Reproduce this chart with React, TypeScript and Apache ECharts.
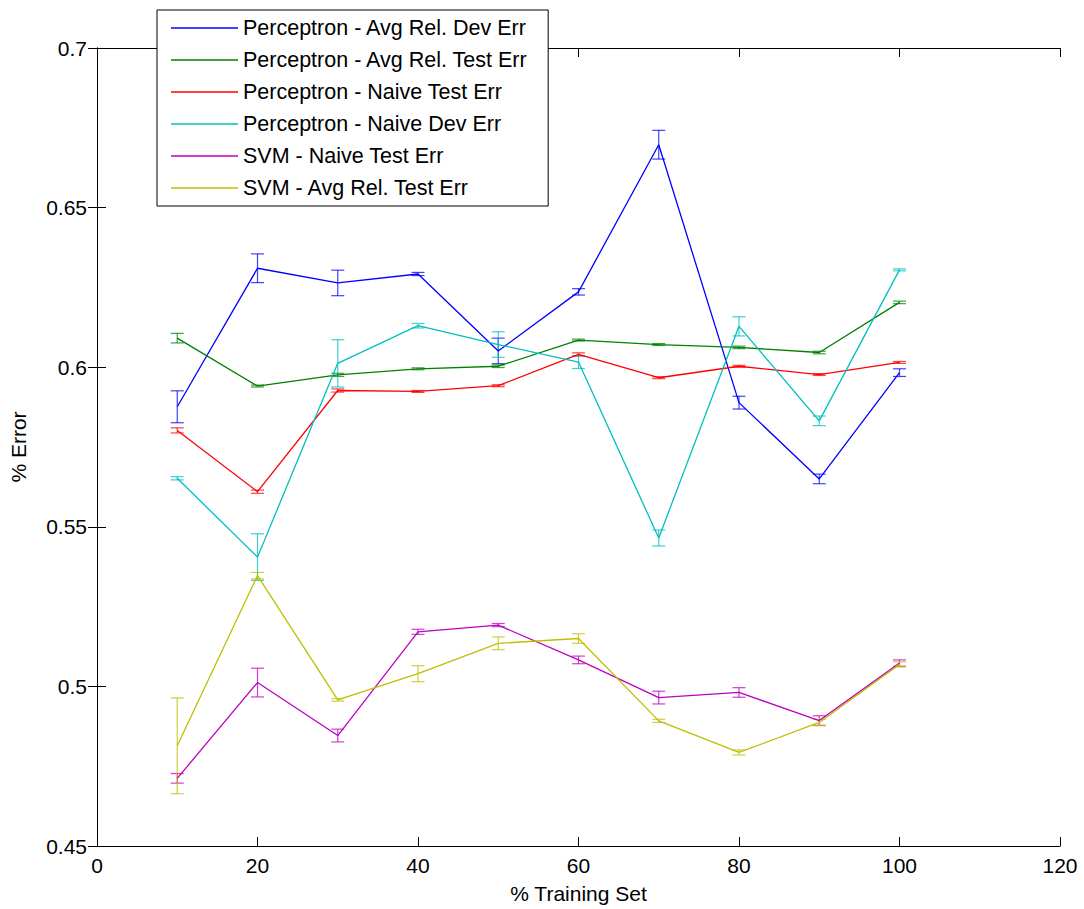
import React, { useEffect, useRef } from "react";
import * as echarts from "echarts";

const xValues = [10, 20, 30, 40, 50, 60, 70, 80, 90, 100];

const seriesNames = [
  "Perceptron - Avg Rel. Dev Err",
  "Perceptron - Avg Rel. Test Err",
  "Perceptron - Naive Test Err",
  "Perceptron - Naive Dev Err",
  "SVM - Naive Test Err",
  "SVM - Avg Rel. Test Err",
];

const seriesColors = ["#0000FF", "#008000", "#FF0000", "#00BFBF", "#BF00BF", "#BFBF00"];

const percAvgRelDev = [0.5876, 0.631, 0.6264, 0.6292, 0.6051, 0.6236, 0.6697, 0.5889, 0.565, 0.5983];
const percAvgRelDevErr = [0.005, 0.0045, 0.004, 0.0005, 0.004, 0.001, 0.0045, 0.002, 0.0015, 0.0012];

const percAvgRelTest = [0.6091, 0.5941, 0.5976, 0.5995, 0.6003, 0.6085, 0.6071, 0.6062, 0.6046, 0.6203];
const percAvgRelTestErr = [0.0015, 0.0003, 0.0005, 0.0003, 0.0004, 0.0003, 0.0003, 0.0004, 0.0004, 0.0004];

const percNaiveTest = [0.5802, 0.561, 0.5927, 0.5924, 0.5942, 0.604, 0.5967, 0.6003, 0.5977, 0.6015];
const percNaiveTestErr = [0.0008, 0.0005, 0.0005, 0.0003, 0.0003, 0.0005, 0.0003, 0.0003, 0.0003, 0.0003];

const percNaiveDev = [0.5652, 0.5405, 0.6012, 0.613, 0.6071, 0.6016, 0.5465, 0.6128, 0.5832, 0.6305];
const percNaiveDevErr = [0.0005, 0.0073, 0.0074, 0.0007, 0.004, 0.002, 0.0025, 0.003, 0.0015, 0.0003];

const svmNaiveTest = [0.4712, 0.5012, 0.4846, 0.5171, 0.5192, 0.5083, 0.4965, 0.4981, 0.4893, 0.5073];
const svmNaiveTestErr = [0.0015, 0.0045, 0.002, 0.0008, 0.0005, 0.0012, 0.002, 0.0015, 0.0015, 0.001];

const svmAvgRelTest = [0.4814, 0.5347, 0.4958, 0.504, 0.5135, 0.515, 0.4892, 0.4793, 0.4887, 0.5069];
const svmAvgRelTestErr = [0.015, 0.001, 0.0004, 0.0025, 0.002, 0.0015, 0.0005, 0.0008, 0.001, 0.0008];

const allValues = [percAvgRelDev, percAvgRelTest, percNaiveTest, percNaiveDev, svmNaiveTest, svmAvgRelTest];
const allErrors = [percAvgRelDevErr, percAvgRelTestErr, percNaiveTestErr, percNaiveDevErr, svmNaiveTestErr, svmAvgRelTestErr];

const FONT = "'Liberation Sans', Arial, sans-serif";

export default function App() {
  const ref = useRef<HTMLDivElement>(null);

  useEffect(() => {
    if (!ref.current) return;
    const chart = echarts.init(ref.current, undefined, { renderer: "svg" });

    const lineSeries: any[] = seriesNames.map((name, i) => ({
      name,
      type: "line",
      xAxisIndex: 0,
      yAxisIndex: 0,
      data: xValues.map((x, j) => [x, allValues[i][j]]),
      symbol: "none",
      lineStyle: { color: seriesColors[i], width: 1.3 },
      itemStyle: { color: seriesColors[i] },
      z: 3,
    }));

    const errSeries: any[] = seriesNames.map((name, i) => {
      const color = seriesColors[i];
      return {
        name: "err" + i,
        type: "custom",
        xAxisIndex: 0,
        yAxisIndex: 0,
        data: xValues.map((x, j) => [x, allValues[i][j] - allErrors[i][j], allValues[i][j] + allErrors[i][j]]),
        encode: { x: 0, y: [1, 2] },
        z: 2,
        renderItem: (params: any, api: any) => {
          const x = api.value(0);
          const lo = api.coord([x, api.value(1)]);
          const hi = api.coord([x, api.value(2)]);
          const hw = 6.5;
          const style = { stroke: color, lineWidth: 1.2, opacity: 0.75 };
          return {
            type: "group",
            children: [
              { type: "line", shape: { x1: lo[0], y1: lo[1], x2: hi[0], y2: hi[1] }, style },
              { type: "line", shape: { x1: lo[0] - hw, y1: lo[1], x2: lo[0] + hw, y2: lo[1] }, style },
              { type: "line", shape: { x1: hi[0] - hw, y1: hi[1], x2: hi[0] + hw, y2: hi[1] }, style },
            ],
          };
        },
      };
    });

    const axisCommon = {
      axisLine: { show: true, lineStyle: { color: "#000", width: 1 } },
      axisTick: { show: true, inside: true, length: 9, lineStyle: { color: "#000" } },
      splitLine: { show: false },
    };

    chart.setOption({
      animation: false,
      backgroundColor: "#fff",
      textStyle: { fontFamily: FONT },
      grid: { left: 96, right: 24, top: 48, bottom: 60, containLabel: false },
      legend: {
        data: seriesNames,
        orient: "vertical",
        left: 157,
        top: 10,
        padding: [6, 20, 6, 14],
        itemGap: 8,
        itemWidth: 67,
        itemHeight: 1.5,
        icon: "rect",
        backgroundColor: "#fff",
        borderColor: "#000",
        borderWidth: 1,
        borderRadius: 0,
        textStyle: { fontFamily: FONT, fontSize: 21.5, color: "#000", lineHeight: 24 },
      },
      xAxis: [
        {
          type: "value",
          min: 0,
          max: 120,
          interval: 20,
          position: "bottom",
          name: "% Training Set",
          nameLocation: "middle",
          nameGap: 37,
          nameTextStyle: { fontFamily: FONT, fontSize: 21, color: "#000" },
          axisLabel: { fontFamily: FONT, fontSize: 21, color: "#000", margin: 9 },
          ...axisCommon,
        },
        {
          type: "value",
          min: 0,
          max: 120,
          interval: 20,
          position: "top",
          axisLabel: { show: false },
          ...axisCommon,
        },
      ],
      yAxis: [
        {
          type: "value",
          min: 0.45,
          max: 0.7,
          interval: 0.05,
          position: "left",
          name: "% Error",
          nameLocation: "middle",
          nameGap: 68,
          nameRotate: 90,
          nameTextStyle: { fontFamily: FONT, fontSize: 21, color: "#000" },
          axisLabel: {
            fontFamily: FONT,
            fontSize: 21,
            color: "#000",
            margin: 10,
            formatter: (v: number) => String(parseFloat(v.toFixed(2))),
          },
          ...axisCommon,
        },
        {
          type: "value",
          min: 0.45,
          max: 0.7,
          interval: 0.05,
          position: "right",
          axisLabel: { show: false },
          ...axisCommon,
        },
      ],
      series: [...errSeries, ...lineSeries],
    });

    return () => chart.dispose();
  }, []);

  return <div ref={ref} style={{ width: 1084, height: 909, position: "absolute", left: 0, top: 0 }} />;
}
